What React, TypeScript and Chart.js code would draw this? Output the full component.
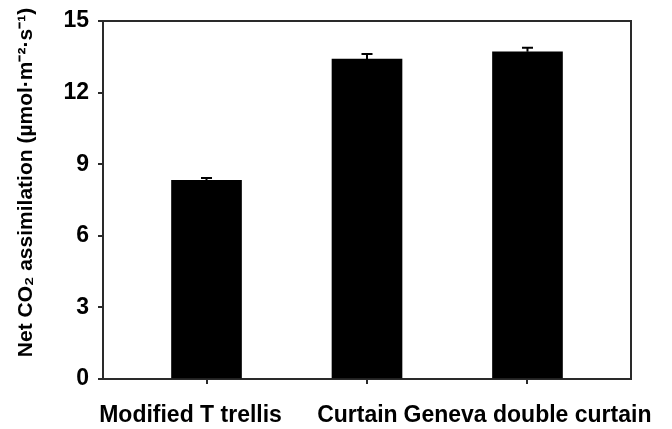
import React, { useEffect, useRef } from "react";
import { Chart, registerables } from "chart.js";

Chart.register(...registerables);

const categories: string[] = ["Modified T trellis", "Curtain", "Geneva double curtain"];
const assimilation: number[] = [8.32, 13.4, 13.71];
const errors: number[] = [0.1, 0.22, 0.17];
const yTicks: number[] = [0, 3, 6, 9, 12, 15];
const yTitle = "Net CO\u2082 assimilation (\u00b5mol\u00b7m\u207b\u00b2\u00b7s\u207b\u00b9)";

const FONT = "'Liberation Sans', Arial, Helvetica, sans-serif";
const AXIS_COLOR = "#2a2a2a";
const NBSP = "\u00a0";

// trailing non-breaking spaces nudge each centred label leftwards, as in the source figure
const labelTrail = [5, 3, 0];

const errorBarPlugin = {
  id: "errorBars",
  afterDatasetsDraw(chart: any) {
    const meta = chart.getDatasetMeta(0);
    const yScale = chart.scales.y;
    const ctx = chart.ctx;
    ctx.save();
    ctx.strokeStyle = "#000";
    ctx.lineWidth = 2;
    meta.data.forEach((bar: any, i: number) => {
      const yTop = yScale.getPixelForValue(assimilation[i] + errors[i]);
      const yBase = yScale.getPixelForValue(assimilation[i]);
      ctx.beginPath();
      ctx.moveTo(bar.x, yBase);
      ctx.lineTo(bar.x, yTop);
      ctx.moveTo(bar.x - 5.5, yTop);
      ctx.lineTo(bar.x + 5.5, yTop);
      ctx.stroke();
    });
    ctx.restore();
  },
};

const frameBoxPlugin = {
  id: "frameBox",
  afterDraw(chart: any) {
    const { left, right, top, bottom } = chart.chartArea;
    const ctx = chart.ctx;
    ctx.save();
    ctx.strokeStyle = AXIS_COLOR;
    ctx.lineWidth = 2;
    ctx.beginPath();
    ctx.moveTo(left, top);
    ctx.lineTo(right, top);
    ctx.lineTo(right, bottom);
    ctx.stroke();
    ctx.restore();
  },
};

export default function App() {
  const canvasRef = useRef<HTMLCanvasElement | null>(null);

  useEffect(() => {
    document.body.style.margin = "0";
    const canvas = canvasRef.current;
    if (!canvas) return;
    const chart = new Chart(canvas, {
      type: "bar",
      data: {
        datasets: [
          {
            data: assimilation.map((v, i) => ({ x: i + 1, y: v })),
            backgroundColor: "#000",
            borderWidth: 0,
            barThickness: 70,
          },
        ],
      },
      options: {
        responsive: false,
        animation: false,
        events: [],
        layout: { padding: { top: 21, right: 41, left: 0, bottom: 0 } },
        plugins: {
          legend: { display: false },
          tooltip: { enabled: false },
        },
        scales: {
          x: {
            type: "linear",
            offset: false,
            min: 0.355,
            max: 3.645,
            afterBuildTicks: (scale: any) => {
              scale.ticks = categories.map((_, i) => ({ value: i + 1 }));
            },
            afterFit: (scale: any) => {
              scale.height = 50;
              scale.paddingLeft = 0;
              scale.paddingRight = 0;
            },
            ticks: {
              autoSkip: false,
              maxRotation: 0,
              minRotation: 0,
              padding: 18,
              color: "#000",
              font: { family: FONT, size: 23, weight: "bold" },
              callback: (v: any) => {
                const i = Math.round(Number(v)) - 1;
                const label = categories[i];
                if (label === undefined) return "";
                return label + NBSP.repeat(labelTrail[i] ?? 0);
              },
            },
            grid: {
              offset: false,
              drawOnChartArea: false,
              drawTicks: true,
              tickLength: 5,
              color: AXIS_COLOR,
              lineWidth: 2,
            },
            border: { display: true, color: AXIS_COLOR, width: 2 },
          },
          y: {
            min: 0,
            max: 15,
            afterBuildTicks: (scale: any) => {
              scale.ticks = yTicks.map((v) => ({ value: v }));
            },
            afterFit: (scale: any) => {
              scale.width = 103;
              scale.paddingTop = 0;
              scale.paddingBottom = 0;
            },
            ticks: {
              padding: 9,
              color: "#000",
              font: { family: FONT, size: 23, weight: "bold" },
            },
            grid: {
              drawOnChartArea: false,
              drawTicks: true,
              tickLength: 5,
              color: AXIS_COLOR,
              lineWidth: 2,
            },
            border: { display: true, color: AXIS_COLOR, width: 2 },
            title: {
              display: true,
              text: NBSP.repeat(6) + yTitle,
              color: "#000",
              padding: { top: 14, bottom: 0 },
              font: { family: FONT, size: 21, weight: "bold" },
            },
          },
        },
      },
      plugins: [errorBarPlugin, frameBoxPlugin],
    });
    return () => chart.destroy();
  }, []);

  return (
    <div style={{ position: "absolute", left: 0, top: 0, width: 672, height: 429, background: "#fff" }}>
      <canvas ref={canvasRef} width={672} height={429} />
    </div>
  );
}
